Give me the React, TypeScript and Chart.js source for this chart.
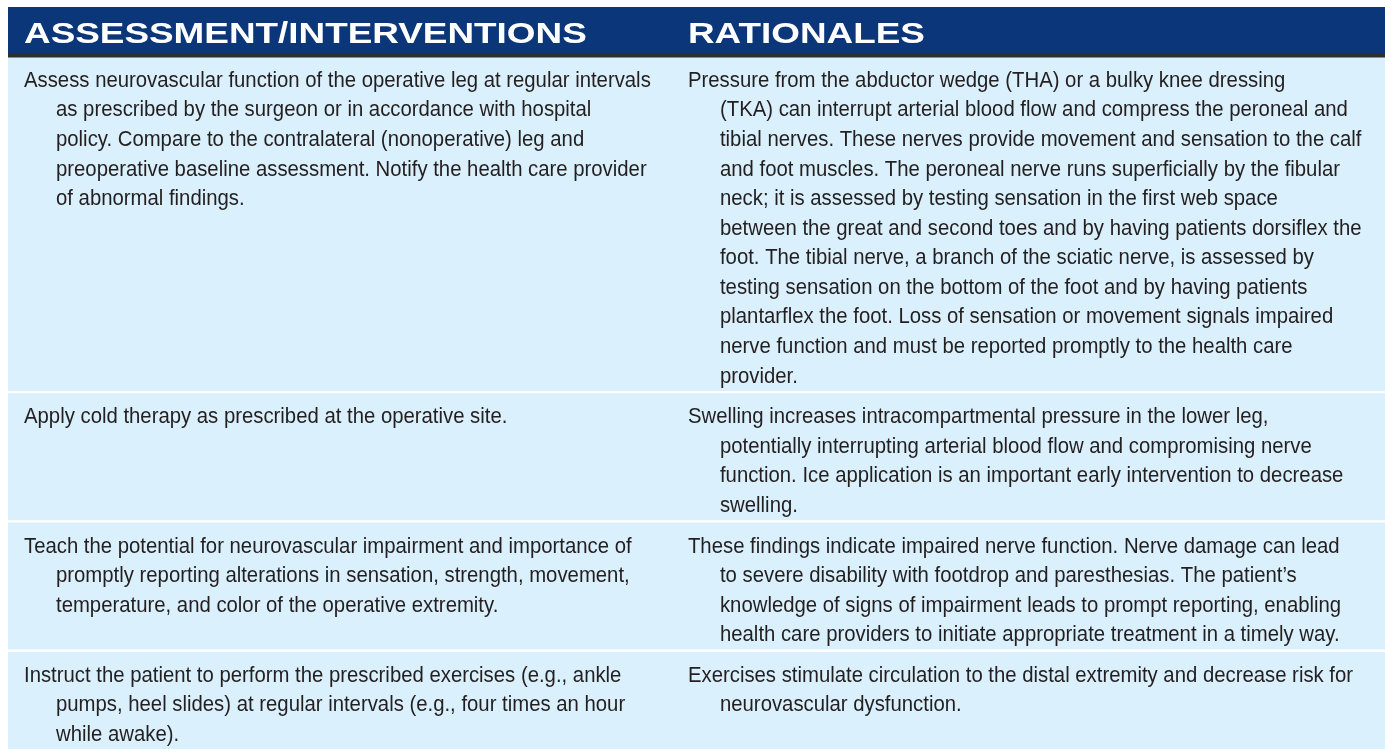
import React, { useEffect, useRef } from "react";
import { Chart, registerables } from "chart.js";

Chart.register(...registerables);

// ---- Table content ----
const headers: string[] = ["ASSESSMENT/INTERVENTIONS", "RATIONALES"];

const interventions: string[][] = [
  [
    "Assess neurovascular function of the operative leg at regular intervals",
    "as prescribed by the surgeon or in accordance with hospital",
    "policy. Compare to the contralateral (nonoperative) leg and",
    "preoperative baseline assessment. Notify the health care provider",
    "of abnormal findings.",
  ],
  ["Apply cold therapy as prescribed at the operative site."],
  [
    "Teach the potential for neurovascular impairment and importance of",
    "promptly reporting alterations in sensation, strength, movement,",
    "temperature, and color of the operative extremity.",
  ],
  [
    "Instruct the patient to perform the prescribed exercises (e.g., ankle",
    "pumps, heel slides) at regular intervals (e.g., four times an hour",
    "while awake).",
  ],
];

const rationales: string[][] = [
  [
    "Pressure from the abductor wedge (THA) or a bulky knee dressing",
    "(TKA) can interrupt arterial blood flow and compress the peroneal and",
    "tibial nerves. These nerves provide movement and sensation to the calf",
    "and foot muscles. The peroneal nerve runs superficially by the fibular",
    "neck; it is assessed by testing sensation in the first web space",
    "between the great and second toes and by having patients dorsiflex the",
    "foot. The tibial nerve, a branch of the sciatic nerve, is assessed by",
    "testing sensation on the bottom of the foot and by having patients",
    "plantarflex the foot. Loss of sensation or movement signals impaired",
    "nerve function and must be reported promptly to the health care",
    "provider.",
  ],
  [
    "Swelling increases intracompartmental pressure in the lower leg,",
    "potentially interrupting arterial blood flow and compromising nerve",
    "function. Ice application is an important early intervention to decrease",
    "swelling.",
  ],
  [
    "These findings indicate impaired nerve function. Nerve damage can lead",
    "to severe disability with footdrop and paresthesias. The patient\u2019s",
    "knowledge of signs of impairment leads to prompt reporting, enabling",
    "health care providers to initiate appropriate treatment in a timely way.",
  ],
  [
    "Exercises stimulate circulation to the distal extremity and decrease risk for",
    "neurovascular dysfunction.",
  ],
];

// ---- layout in "line units" (1 unit = one text line) ----
const HEADER_H = 1.56;
const RULE_H = 0.135;
const ROW_PAD = 0.27;
const GAP = 0.1;
const FIRST_BASELINE = 1.0;
const HEADER_BASELINE = 1.22;

const HEADER_BLUE = "#0b3679";
const RULE_COLOR = "#2e2e2e";
const ROW_BLUE = "#daf0fc";
const TEXT_COLOR = "#231f20";

function buildBands() {
  const bands: { start: number; end: number; color: string }[] = [];
  bands.push({ start: 0, end: HEADER_H, color: HEADER_BLUE });
  bands.push({ start: HEADER_H, end: HEADER_H + RULE_H, color: RULE_COLOR });
  let y = HEADER_H + RULE_H;
  const rowStarts: number[] = [];
  for (let r = 0; r < interventions.length; r++) {
    const n = Math.max(interventions[r].length, rationales[r].length);
    rowStarts.push(y);
    bands.push({ start: y, end: y + n + ROW_PAD, color: ROW_BLUE });
    y += n + ROW_PAD;
    if (r < interventions.length - 1) y += GAP;
  }
  return { bands, rowStarts, total: y };
}

export default function App() {
  const ref = useRef<HTMLCanvasElement | null>(null);

  useEffect(() => {
    const canvas = ref.current;
    if (!canvas) return;
    const { bands, rowStarts, total } = buildBands();

    const probe = canvas.getContext("2d")!;
    probe.font = "20px 'Liberation Sans Narrow', monospace";
    const w1 = probe.measureText("abcdefghijklmnop").width;
    probe.font = "20px monospace";
    const w2 = probe.measureText("abcdefghijklmnop").width;
    const hasNarrow = Math.abs(w1 - w2) > 0.5;
    const bodyFont = hasNarrow
      ? "21.5px 'Liberation Sans Narrow'"
      : "21.5px 'Liberation Sans'";
    const bodyScale = hasNarrow ? 1.155 : 0.945;

    const textPlugin = {
      id: "tableText",
      afterDatasetsDraw(chart: any) {
        const ctx: CanvasRenderingContext2D = chart.ctx;
        const area = chart.chartArea;
        const ys = chart.scales.y;
        const colX = [area.left + 16, area.left + area.width * 0.4938];
        const indent = 32;
        const draw = (t: string, x: number, y: number, sx: number) => {
          ctx.save();
          ctx.translate(x, y);
          ctx.scale(sx, 1);
          ctx.fillText(t, 0, 0);
          ctx.restore();
        };
        ctx.save();
        ctx.textBaseline = "alphabetic";
        ctx.textAlign = "left";
        // headers
        ctx.fillStyle = "#ffffff";
        ctx.font = "bold 29.5px 'Liberation Sans'";
        const hy = ys.getPixelForValue(HEADER_BASELINE);
        headers.forEach((h, i) => draw(h, colX[i], hy, 1.25));
        // body
        ctx.fillStyle = TEXT_COLOR;
        ctx.font = bodyFont;
        rowStarts.forEach((s, r) => {
          [interventions[r], rationales[r]].forEach((lines, c) => {
            lines.forEach((line, i) => {
              const y = ys.getPixelForValue(s + FIRST_BASELINE + i);
              draw(line, colX[c] + (i > 0 ? indent : 0), y, bodyScale);
            });
          });
        });
        ctx.restore();
      },
    };

    const chart = new Chart(canvas, {
      type: "bar",
      data: {
        labels: ["table"],
        datasets: bands.map((b) => ({
          data: [[b.start, b.end]] as any,
          backgroundColor: b.color,
          borderWidth: 0,
          grouped: false,
          barPercentage: 1,
          categoryPercentage: 1,
        })),
      },
      options: {
        animation: false,
        responsive: false,
        maintainAspectRatio: false,
        layout: { padding: { left: 8, top: 7, right: 0, bottom: 0 } },
        plugins: { legend: { display: false }, tooltip: { enabled: false } },
        events: [],
        scales: {
          x: { type: "category", display: false, offset: true },
          y: { type: "linear", display: false, min: 0, max: total, reverse: true },
        },
      },
      plugins: [textPlugin],
    });
    return () => chart.destroy();
  }, []);

  return (
    <div style={{ position: "absolute", left: 0, top: 0, width: 1385, height: 749, background: "#fff" }}>
      <canvas ref={ref} width={1385} height={749} style={{ display: "block" }} />
    </div>
  );
}
